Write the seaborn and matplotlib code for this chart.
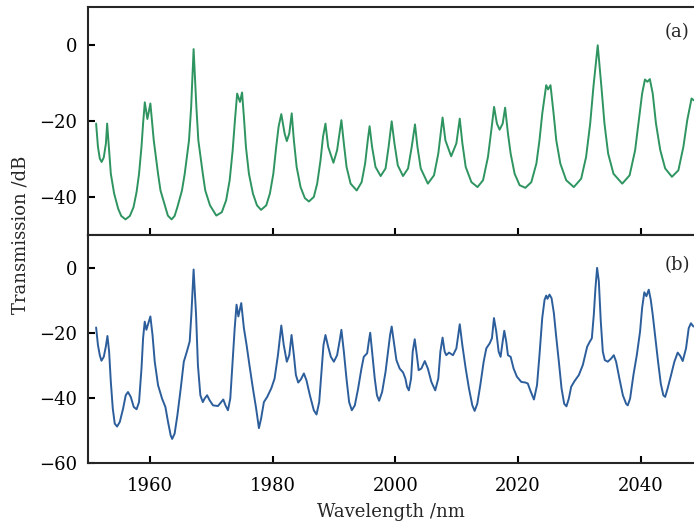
import matplotlib
matplotlib.use("Agg")
import matplotlib.pyplot as plt
import seaborn as sns

# (a) transmission spectrum
wl_a = [1951.2, 1951.5, 1951.8, 1952.1, 1952.45, 1952.8, 1953.0,
        1953.27, 1953.6, 1954.14, 1954.8, 1955.3, 1956.0, 1956.7, 1957.3, 1957.8, 1958.2, 1958.6, 1958.86, 1959.14, 1959.56, 1960.05,
        1960.6, 1961.3, 1961.7, 1962.5, 1962.9, 1963.5, 1964.0, 1964.45, 1965.2, 1965.65, 1966.35, 1966.7, 1967.1,
        1967.55, 1967.87, 1968.6, 1969.0, 1969.77, 1970.8, 1971.7, 1972.4, 1972.98, 1973.47, 1973.84, 1974.2, 1974.66, 1975.0,
        1975.3, 1975.63, 1976.12, 1976.77, 1977.43, 1978.1, 1978.95, 1979.54, 1980.1, 1980.57, 1980.96, 1981.4, 1981.94, 1982.3, 1982.7, 1983.1,
        1983.45, 1983.9, 1984.54, 1985.24, 1985.9, 1986.7, 1987.25, 1987.8, 1988.2, 1988.6, 1989.04, 1989.9, 1990.5, 1991.2,
        1991.6, 1992.04, 1992.7, 1993.7, 1994.5, 1995.07, 1995.5, 1995.8,
        1996.2, 1996.76, 1997.6, 1998.4, 1998.9, 1999.4,
        1999.85, 2000.4, 2001.25, 2002.07, 2002.67, 2003.2,
        2003.6, 2004.14, 2005.3, 2006.3, 2007.0, 2007.4, 2007.7, 2008.16, 2009.1, 2009.95, 2010.5,
        2010.93, 2011.47, 2012.4, 2013.4, 2014.3, 2015.1, 2015.65, 2016.1, 2016.56, 2017.0, 2017.5, 2017.9,
        2018.36, 2018.8, 2019.45, 2020.26, 2021.2, 2022.17, 2023.0, 2023.5, 2023.96, 2024.6, 2024.9, 2025.3,
        2025.8, 2026.24, 2026.9, 2027.86, 2029.1, 2030.3, 2031.1, 2031.77, 2032.3, 2033.0,
        2033.6, 2034.1, 2034.7, 2035.57, 2037.0, 2038.2, 2039.1, 2039.7, 2040.24, 2040.7, 2041.1, 2041.5,
        2041.97, 2042.5, 2043.2, 2044.0, 2045.1, 2046.15, 2046.97, 2047.6, 2048.3, 2048.7]
tr_a = [-20.7, -26.8, -29.9, -30.8, -29.6, -25.9, -20.7,
        -26.8, -33.9, -39.1, -43.1, -45.0, -45.9, -45.0, -42.7, -38.7, -33.9, -26.8, -20.7, -15.1, -19.5, -15.4,
        -25.1, -33.9, -38.3, -42.7, -44.9, -45.9, -45.0, -42.7, -38.3, -33.9, -25.1, -16.3, -1.1,
        -16.3, -25.1, -33.9, -38.3, -42.2, -44.9, -44.0, -40.9, -35.6, -27.7, -19.8, -12.8, -15.0, -12.5,
        -18.9, -26.8, -33.9, -39.1, -42.2, -43.4, -42.2, -39.1, -33.9, -26.8, -21.5, -18.2, -23.3, -25.3, -23.3, -18.0,
        -25.1, -32.1, -37.4, -40.3, -41.2, -40.0, -36.5, -30.3, -24.2, -20.7, -26.8, -31.0, -27.7, -19.8,
        -25.9, -32.1, -36.5, -38.3, -36.1, -31.2, -25.1, -21.4,
        -26.8, -32.1, -34.5, -32.5, -26.8, -20.1,
        -25.9, -31.7, -34.5, -32.5, -26.8, -20.9,
        -26.8, -32.5, -36.5, -34.3, -28.6, -23.3, -19.1, -25.1, -29.3, -25.9, -19.4,
        -25.9, -32.1, -36.1, -37.4, -35.6, -29.5, -22.4, -16.3, -20.7, -22.3, -20.7, -16.5,
        -23.3, -28.6, -33.9, -36.9, -37.6, -36.1, -31.2, -25.1, -18.0, -10.6, -11.7, -10.6,
        -18.0, -25.1, -31.2, -35.6, -37.4, -35.2, -29.5, -20.7, -11.0, -0.1,
        -11.0, -20.7, -28.6, -33.9, -36.5, -34.3, -27.7, -19.8, -12.8, -9.1, -9.7, -9.0,
        -12.8, -20.7, -27.7, -32.5, -34.7, -33.0, -26.8, -19.8, -14.1, -14.6]

# (b) transmission spectrum
wl_b = [1951.2, 1951.5, 1951.8, 1952.07, 1952.45, 1952.78, 1953.05, 1953.32, 1953.6, 1953.92,
        1954.24, 1954.62, 1955.06, 1955.6, 1956.03, 1956.4, 1956.85, 1957.34, 1957.8, 1958.2,
        1958.6, 1958.86, 1959.13, 1959.4, 1959.8, 1960.05, 1960.4, 1960.76, 1961.3, 1961.95,
        1962.5, 1962.93, 1963.36, 1963.6, 1964.0, 1964.45, 1965.0, 1965.5, 1966.0, 1966.46,
        1966.73, 1967.1, 1967.5, 1967.8, 1968.2, 1968.6, 1968.9, 1969.3, 1969.7, 1970.26,
        1971.07, 1971.6, 1971.94, 1972.3, 1972.7, 1973.08, 1973.46, 1973.8, 1974.1, 1974.4,
        1974.87, 1975.3, 1975.74, 1976.2, 1976.77, 1977.3, 1977.75, 1978.1, 1978.56, 1979.1,
        1979.76, 1980.3, 1980.85, 1981.4, 1981.8, 1982.3, 1982.7, 1983.07, 1983.45, 1983.78,
        1984.16, 1984.6, 1985.08, 1985.5, 1986.06, 1986.7, 1987.14, 1987.58, 1987.96, 1988.28,
        1988.6, 1989.04, 1989.48, 1989.97, 1990.5, 1990.94, 1991.2, 1991.6, 1992.03, 1992.46,
        1992.9, 1993.39, 1993.93, 1994.47, 1994.85, 1995.4, 1995.67, 1995.9, 1996.2, 1996.64,
        1997.0, 1997.35, 1997.84, 1998.4, 1998.8, 1999.14, 1999.4, 1999.74, 2000.17, 2000.7,
        2001.26, 2001.64, 2001.9, 2002.2, 2002.56, 2002.83, 2003.16, 2003.5, 2003.8, 2004.24,
        2004.8, 2005.3, 2005.87, 2006.5, 2007.0, 2007.34, 2007.7, 2008.04, 2008.3, 2008.75,
        2009.4, 2009.95, 2010.5, 2010.92, 2011.47, 2012.0, 2012.55, 2012.93, 2013.36, 2013.85,
        2014.4, 2014.83, 2015.37, 2015.75, 2016.08, 2016.46, 2016.84, 2017.16, 2017.5, 2017.76,
        2018.08, 2018.36, 2018.8, 2019.28, 2019.82, 2020.53, 2021.23, 2021.6, 2022.0, 2022.6,
        2023.1, 2023.5, 2023.95, 2024.33, 2024.6, 2024.8, 2025.14, 2025.47, 2025.85, 2026.2,
        2026.66, 2027.1, 2027.53, 2027.9, 2028.29, 2028.67, 2029.2, 2029.92, 2030.57, 2031.28,
        2031.66, 2032.04, 2032.36, 2032.63, 2032.9, 2033.18, 2033.5, 2033.83, 2034.15, 2034.64,
        2035.2, 2035.62, 2036.0, 2036.54, 2037.1, 2037.63, 2037.9, 2038.28, 2038.82, 2039.37,
        2039.9, 2040.24, 2040.6, 2040.94, 2041.32, 2041.65, 2041.97, 2042.4, 2042.84, 2043.28,
        2043.7, 2044.0, 2044.4, 2044.96, 2045.5, 2046.04, 2046.48, 2046.86, 2047.4, 2047.84,
        2048.2, 2048.6]
tr_b = [-18.4, -23.8, -26.9, -28.6, -27.4, -24.3, -21.0, -25.8, -35.1, -43.3,
        -47.9, -48.8, -47.4, -43.3, -39.2, -38.2, -39.7, -42.8, -43.5, -41.3,
        -31.0, -21.7, -16.6, -19.1, -16.6, -15.0, -20.7, -28.9, -36.1, -40.2,
        -42.8, -47.4, -51.5, -52.6, -51.0, -45.4, -37.1, -28.9, -25.8, -22.7,
        -14.5, -0.6, -14.5, -29.9, -39.2, -41.3, -40.2, -39.2, -40.7, -42.3,
        -42.5, -41.3, -40.5, -42.3, -43.8, -40.2, -28.9, -18.6, -11.4, -15.0,
        -10.9, -18.6, -23.8, -29.9, -37.1, -43.3, -49.3, -46.4, -41.3, -39.7,
        -37.1, -34.1, -26.9, -17.8, -23.8, -28.9, -26.9, -20.7, -26.9, -33.0,
        -35.3, -34.3, -32.5, -34.6, -39.2, -43.8, -45.1, -41.3, -32.0, -23.8,
        -20.7, -24.3, -27.4, -28.9, -26.9, -22.2, -19.1, -25.8, -34.1, -41.3,
        -43.8, -42.3, -37.1, -31.0, -27.4, -26.3, -22.7, -20.0, -25.8, -34.1,
        -39.2, -40.9, -38.2, -32.0, -25.8, -20.7, -18.1, -22.7, -28.4, -31.0,
        -32.2, -34.1, -36.6, -37.7, -34.1, -25.8, -22.0, -26.9, -31.5, -31.0,
        -28.7, -31.0, -35.1, -37.7, -34.1, -25.8, -21.5, -25.8, -26.9, -26.1,
        -26.9, -24.8, -17.4, -23.8, -31.0, -37.1, -42.3, -44.0, -41.8, -36.1,
        -28.9, -24.8, -23.3, -21.7, -15.5, -19.7, -25.8, -27.4, -22.7, -19.4,
        -22.7, -26.9, -27.4, -31.0, -33.5, -35.1, -35.3, -35.6, -37.7, -40.5,
        -36.1, -26.9, -15.5, -9.9, -8.6, -9.6, -8.3, -9.4, -14.0, -20.7,
        -28.9, -37.1, -41.8, -42.6, -40.2, -36.6, -34.9, -33.0, -29.9, -24.3,
        -22.9, -21.7, -14.5, -6.3, -0.1, -4.2, -16.6, -25.8, -28.4, -28.9,
        -27.9, -26.9, -28.9, -34.1, -39.2, -41.8, -42.3, -40.2, -33.0, -26.9,
        -19.7, -12.4, -7.6, -8.8, -6.8, -9.9, -14.5, -21.7, -28.9, -35.6,
        -39.2, -39.7, -37.1, -33.0, -28.9, -26.1, -27.2, -28.7, -24.8, -18.6,
        -17.1, -18.1]

xticks = [1960, 1980, 2000, 2020, 2040]
yticks_a = [0, -20, -40]
yticks_b = [0, -20, -40, -60]

sns.set_style("ticks")
plt.rcParams['font.family'] = ['DejaVu Serif']
plt.rcParams['axes.linewidth'] = 1.5

fig, (ax1, ax2) = plt.subplots(2, 1, sharex=True, figsize=(6.94, 5.31), dpi=100)
fig.subplots_adjust(left=0.127, right=1.0, top=0.987, bottom=0.128, hspace=0)

sns.lineplot(x=wl_a, y=tr_a, ax=ax1, color='#2e9460', linewidth=1.4)
sns.lineplot(x=wl_b, y=tr_b, ax=ax2, color='#2d5e9c', linewidth=1.4)

ax1.set_xlim(1949.9, 2048.7)
ax1.set_ylim(-50, 10)
ax2.set_ylim(-60, 10)
ax1.set_yticks(yticks_a)
ax2.set_yticks(yticks_b)
ax2.set_xticks(xticks)

for ax in (ax1, ax2):
    ax.spines['right'].set_visible(False)
    ax.tick_params(direction='in', length=5, width=1.5, labelsize=13, pad=8,
                   top=False, right=False, colors='black')
ax2.tick_params(axis='x', pad=10)

ax1.text(0.993, 0.89, '(a)', transform=ax1.transAxes, ha='right', va='center', fontsize=13)
ax2.text(0.993, 0.87, '(b)', transform=ax2.transAxes, ha='right', va='center', fontsize=13)

ax2.set_xlabel('Wavelength /nm', fontsize=13, labelpad=6)
fig.text(0.029, 0.557, 'Transmission /dB', rotation=90, ha='center', va='center', fontsize=13)

plt.savefig("out.png", dpi=100)
